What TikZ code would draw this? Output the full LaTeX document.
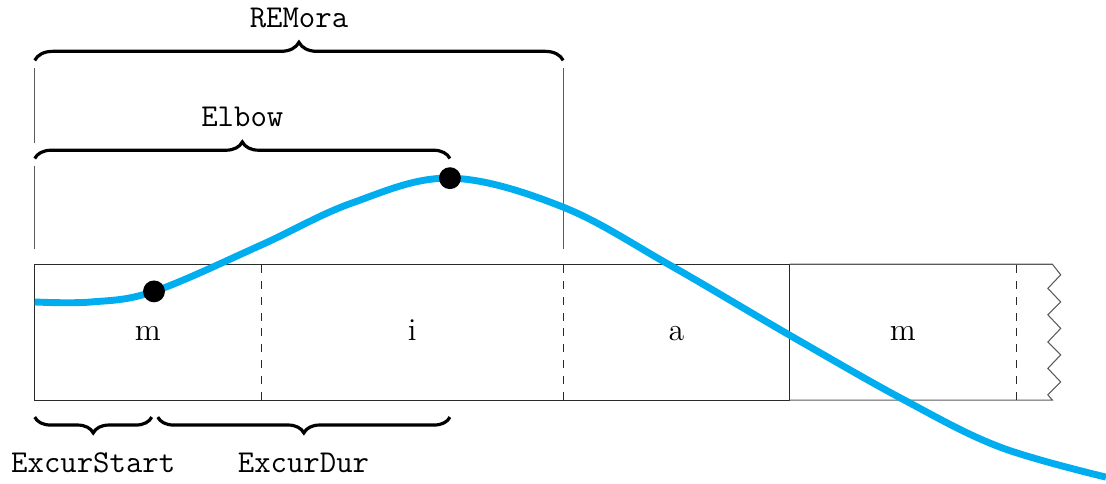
\documentclass[tikz,border=0pt]{standalone}
\usepackage{tikz}
\usetikzlibrary{decorations.pathreplacing,calc}
\definecolor{trace}{HTML}{00AEEF}
\definecolor{guide}{HTML}{5A5A5A}
\definecolor{edge}{HTML}{2A2A2A}

\begin{document}
\begin{tikzpicture}[
   seg/.style={font=\large,anchor=base},
   tag/.style={font=\large\ttfamily},
   brc/.style={decorate,decoration={brace,amplitude=#1},very thick},
   dotpt/.style={circle,fill=black,inner sep=0pt,minimum size=2.9mm}]
  \useasboundingbox (-0.46,-1.11) rectangle (14.19,5.30);
  % segment strip
  \draw[edge] (0,0) rectangle (10,1.8);
  \draw[guide] (10,1.8) -- (13.48,1.8) -- (13.59,1.66) -- (13.42,1.48) -- (13.59,1.30)
     -- (13.42,1.13) -- (13.59,0.95) -- (13.42,0.77) -- (13.59,0.60) -- (13.42,0.42)
     -- (13.59,0.24) -- (13.42,0.07) -- (13.48,0) -- (10,0);
  \foreach \x in {3,7,13}
    \draw[edge,dashed] (\x,0) -- (\x,1.8);
  \foreach \x/\lab/\nm in {1.5/m/segm,5/i/segi,8.5/a/sega,11.5/m/segmm}
    \node[seg] (\nm) at (\x,0.79) {\lab};
  % guides
  \draw[guide] (0,2.0) -- (0,3.1);
  \draw[guide] (0,3.4) -- (0,4.4);
  \draw[guide] (7,2.0) -- (7,4.4);
  % trace
  \draw[trace,line width=2.6pt] plot[smooth,tension=0.6] coordinates {
     (0,1.30) (0.75,1.30) (1.58,1.44) (2.99,2.05) (4.2,2.61) (5.5,2.94)
     (6.99,2.56) (8.41,1.79) (10.0,0.86) (11.52,0) (12.78,-0.62) (14.19,-1.02)};
  \node[dotpt] (start) at (1.58,1.44) {};
  \node[dotpt] (elbow) at (5.5,2.94) {};
  % braces
  \coordinate (elbowlvl) at (0,3.2);
  \coordinate (lowlvl) at (0,-0.225);
  \draw[brc=0.24cm] (0,4.5) -- (7,4.5);
  \node[tag] (remora) at (3.5,5.06) {REMora};
  \draw[brc=0.22cm] (elbowlvl) -- (elbow |- elbowlvl);
  \node[tag] (elbowlab) at (2.75,3.75) {Elbow};
  \draw[brc=0.21cm,decoration={mirror}] (lowlvl) -- ($(start |- lowlvl)+(-0.03,0)$);
  \node[tag] (xstart) at (0.775,-0.83) {ExcurStart};
  \draw[brc=0.21cm,decoration={mirror}] ($(start |- lowlvl)+(0.05,0)$) -- (elbow |- lowlvl);
  \node[tag] (xdur) at (3.56,-0.83) {ExcurDur};
\end{tikzpicture}
\end{document}
